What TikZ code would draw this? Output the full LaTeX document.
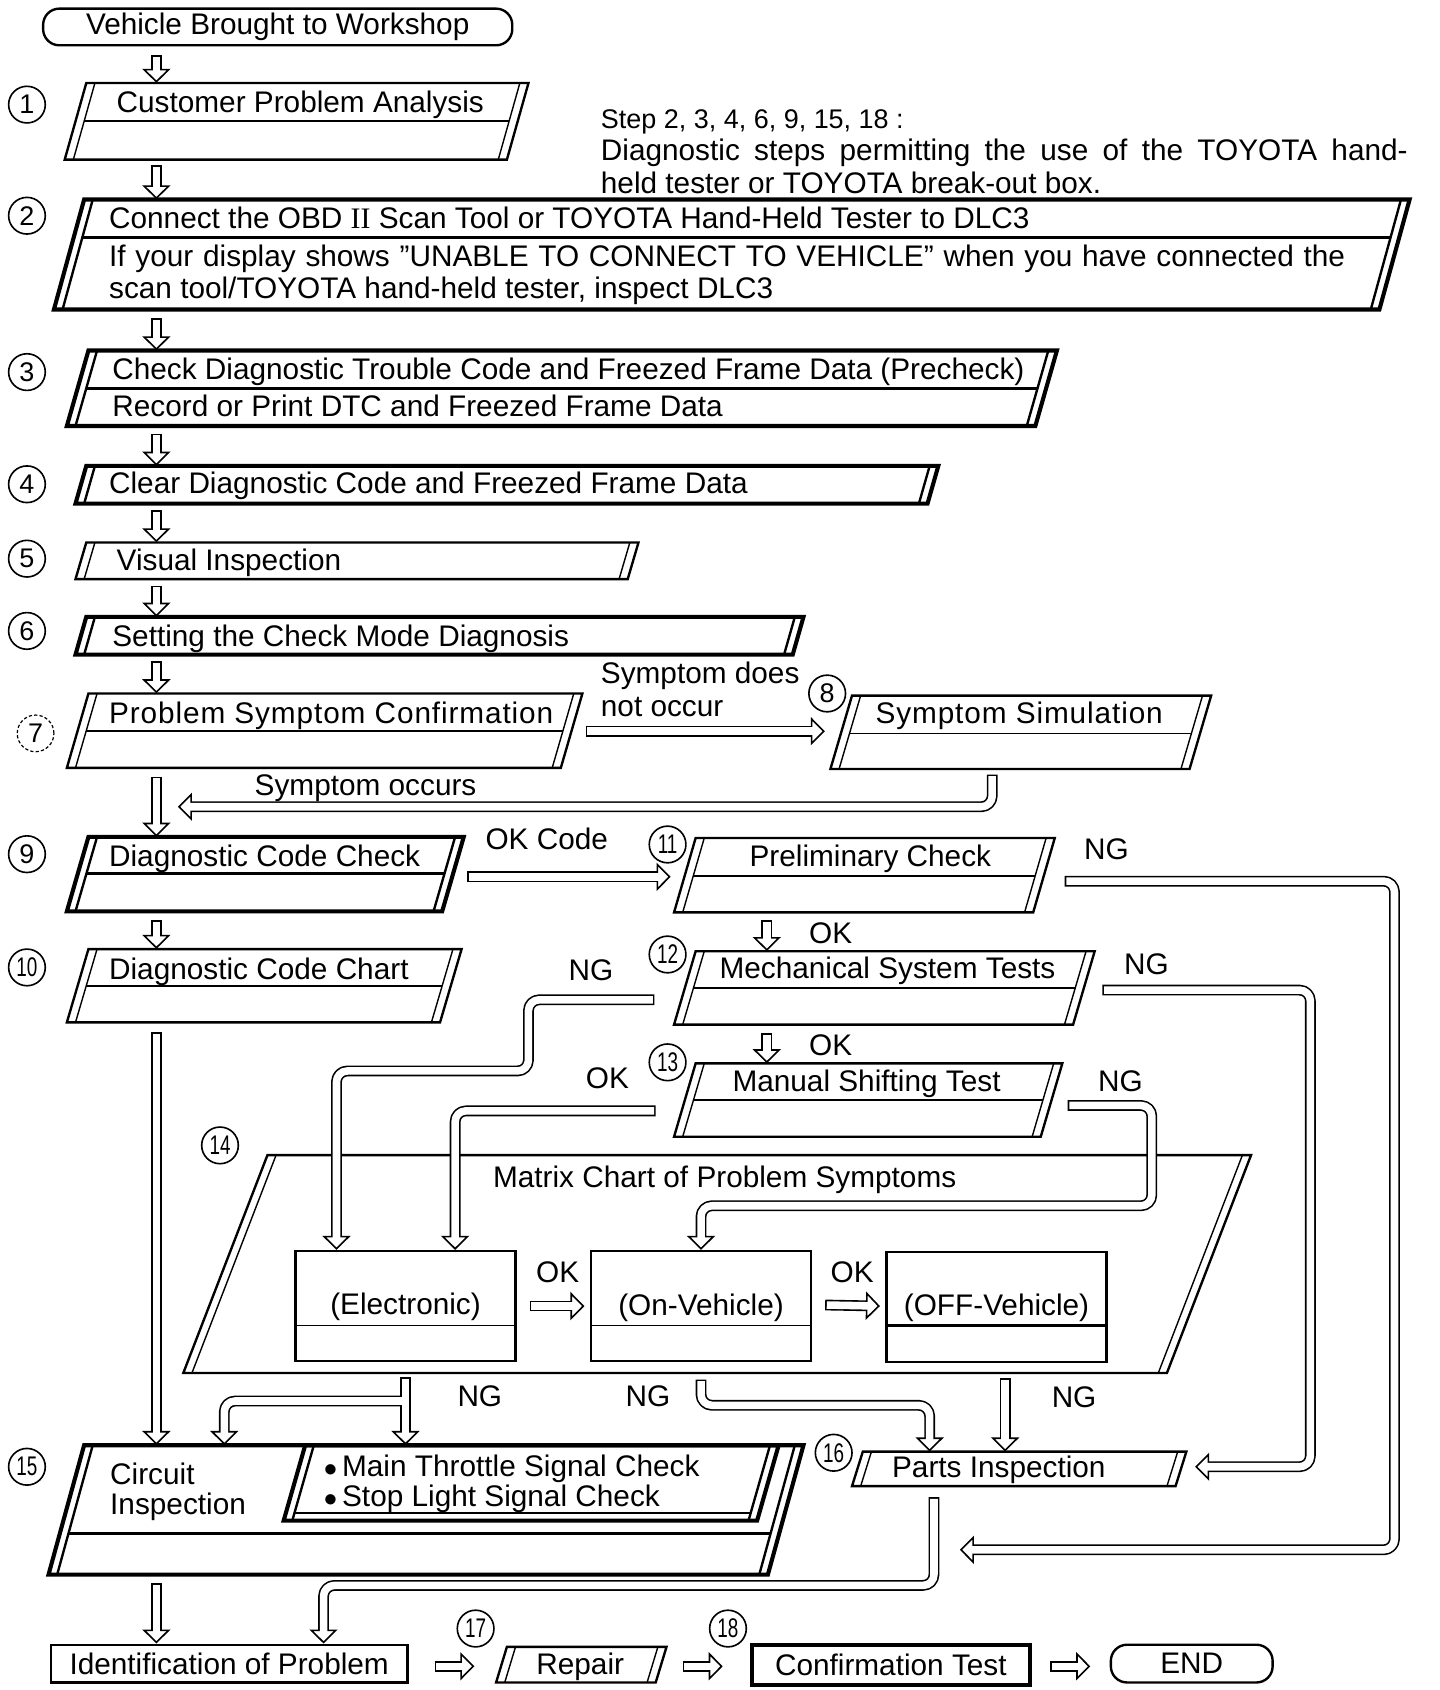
\documentclass[tikz,border=0pt]{standalone}
\usepackage{fontspec}
\usepackage{graphicx}
\setmainfont{Liberation Sans}
\newfontfamily\romanfont{Liberation Serif}
\usetikzlibrary{arrows.meta,calc}

\tikzset{
  regbox/.style={outerln/.style={line width=2.2pt,line join=miter},
                 innerln/.style={line width=1.3pt},
                 sepln/.style={line width=1.6pt}},
  boldbox/.style={outerln/.style={line width=3.8pt,line join=miter},
                 innerln/.style={line width=2.2pt},
                 sepln/.style={line width=2.4pt}},
  tx/.style={inner sep=0pt, font=\fontsize{27.6}{31}\selectfont},
  num/.style={circle, draw, line width=1.5pt, minimum size=34pt, inner sep=0pt,
              font=\fontsize{25}{25}\selectfont},
  hout/.style={line width=10pt, line join=round, rounded corners=10pt,
     -{Triangle[open, length=13pt, width=26pt, line width=1.5pt]}},
  hin/.style={line width=7pt, white, line join=round, rounded corners=10pt,
     shorten <=1.5pt, shorten >=10.5pt},
  rbox/.style={draw, line width=2.2pt, inner sep=0pt},
}

% parallelogram box: [style]{name}{xl top}{xr top}{y top}{y bottom}{shift}{separator y or 0}
\newcommand\pbox[8][regbox]{%
  \begin{scope}[#1]
    \draw[outerln] (#3,#5) -- (#4,#5) -- ({#4-#7},#6) -- ({#3-#7},#6) -- cycle;
    \draw[innerln] ({#3+8},#5) -- ({#3+8-#7},#6);
    \draw[innerln] ({#4-8},#5) -- ({#4-8-#7},#6);
    \ifdim #8pt>0pt
      \pgfmathsetmacro\sepoff{(#8-#5)/(#6-#5)*#7}
      \draw[sepln] ({#3+8-\sepoff},#8) -- ({#4-8-\sepoff},#8);
    \fi
  \end{scope}
  \node[inner sep=0pt, minimum width={#4-#3+#7}, minimum height={#6-#5}] (#2)
     at ({(#3+#4-#7)/2},{(#5+#6)/2}) {};
}
\newcommand\harrow[1]{\draw[hout] #1;\draw[hin] #1;}
\newcommand\nn[1]{\scalebox{0.7}[1]{#1}}
\newcommand\wide[1]{{\addfontfeatures{LetterSpace=3}#1}}

\begin{document}
\begin{tikzpicture}[x=1pt,y=-1pt]
\fill[white] (0,0) rectangle (1335,1567);
\useasboundingbox (0,0) rectangle (1335,1567);

\coordinate (col) at (145,0);
\coordinate (c11) at (711,0);

% ---------- terminals ----------
\node[draw, line width=2.2pt, rounded corners=15pt, minimum width=435pt,
      minimum height=34pt, tx] (start) at (257.5,25) {Vehicle Brought to Workshop};

% ---------- boxes ----------
\pbox[regbox]{b1}{80}{490}{77}{148}{20}{112}
\pbox[boldbox]{b2}{78}{1307}{185}{287}{28}{220}
\pbox[boldbox]{b3}{82}{980}{325}{395}{20}{360}
\pbox[boldbox]{b4}{80}{870}{432}{467}{10}{0}
\pbox[regbox]{b5}{80}{592}{503}{537}{10}{0}
\pbox[boldbox]{b6}{80}{745}{572}{607}{10}{0}
\pbox[regbox]{b7}{82}{540}{643}{712}{20}{678}
\pbox[regbox]{b8}{790}{1123}{645}{713}{20}{680}
\pbox[boldbox]{b9}{82}{430}{776}{845}{20}{810}
\pbox[regbox]{b10}{82}{428}{880}{948}{20}{914}
\pbox[regbox]{b11}{645}{978}{777}{846}{20}{812}
\pbox[regbox]{b12}{645}{1015}{882}{950}{20}{916}
\pbox[regbox]{b13}{645}{985}{986}{1054}{20}{1020}
\pbox[regbox]{b14}{248}{1160}{1071}{1273}{78}{0}
\pbox[boldbox]{b15}{78}{745}{1340}{1460}{33}{1422}
\pbox[boldbox]{b15i}{283}{722}{1340}{1410}{20}{1403}
\pbox[regbox]{b16}{800}{1100}{1346}{1378}{10}{0}
\pbox[regbox]{b17}{470}{618}{1527}{1560}{10}{0}

% matrix sub boxes
\node[rbox, minimum width=204pt, minimum height=102pt] (elec) at (376,1211) {};
\node[rbox, minimum width=204pt, minimum height=102pt] (onv) at (650,1211) {};
\node[rbox, minimum width=204pt, minimum height=102pt] (offv) at (924,1212) {};
\draw[line width=1.6pt] (elec.west |- 0,1229) -- (elec.east |- 0,1229);
\draw[line width=1.6pt] (onv.west |- 0,1229) -- (onv.east |- 0,1229);
\draw[line width=2.6pt] (offv.west |- 0,1229) -- (offv.east |- 0,1229);

% bottom row
\node[rbox, minimum width=331pt, minimum height=35pt, tx] (ident) at (212.5,1542.5) {Identification of Problem};
\node[rbox, line width=3.8pt, minimum width=258pt, minimum height=37pt, tx] (confirm) at (826,1543.5) {Confirmation Test};
\node[draw, line width=2.2pt, rounded corners=15pt, minimum width=150pt,
      minimum height=35pt, tx] (endn) at (1105,1542.5) {END};

% ---------- circled numbers ----------
\node[num] (n1) at (25,97) {1};
\node[num] (n2) at (25,200) {2};
\node[num] (n3) at (25,345) {3};
\node[num] (n4) at (25,449) {4};
\node[num] (n5) at (25,518) {5};
\node[num] (n6) at (25,585) {6};
\node[num, line width=1.1pt, dash pattern=on 3pt off 2pt] (n7) at (33,680) {7};
\node[num] (n8) at (767,643) {8};
\node[num] (n9) at (25,792) {9};
\node[num] (n10) at (25,897) {\nn{10}};
\node[num] (n11) at (619,783) {\nn{11}};
\node[num] (n12) at (619,885) {\nn{12}};
\node[num] (n13) at (619,985) {\nn{13}};
\node[num] (n14) at (204,1062) {\nn{14}};
\node[num] (n15) at (25,1360) {\nn{15}};
\node[num] (n16) at (773,1347) {\nn{16}};
\node[num] (n17) at (441,1510) {\nn{17}};
\node[num] (n18) at (675,1510) {\nn{18}};

% ---------- texts ----------
\node[tx, anchor=base west] (t1) at (108,104) {Customer Problem Analysis};
\node[tx, anchor=base west, font=\fontsize{25}{30}\selectfont] (note1) at (557,119) {Step 2, 3, 4, 6, 9, 15, 18 :};
\node[tx, anchor=base west] (note2) at (557,149) {\makebox[748pt][s]{Diagnostic steps permitting the use of the TOYOTA hand-}};
\node[tx, anchor=base west] (note3) at (557,179) {held tester or TOYOTA break-out box.};
\node[tx, anchor=base west] (t2a) at (101,212) {Connect the OBD {\romanfont II} Scan Tool or TOYOTA Hand-Held Tester to DLC3};
\node[tx, anchor=base west] (t2b) at (101,247) {\makebox[1146pt][s]{If your display shows ”UNABLE TO CONNECT TO VEHICLE” when you have connected the}};
\node[tx, anchor=base west] (t2c) at (101,277) {scan tool/TOYOTA hand-held tester, inspect DLC3};
\node[tx, anchor=base west] (t3a) at (104,352) {Check Diagnostic Trouble Code and Freezed Frame Data (Precheck)};
\node[tx, anchor=base west] (t3b) at (104,386) {Record or Print DTC and Freezed Frame Data};
\node[tx, anchor=base west] (t4) at (101,458) {Clear Diagnostic Code and Freezed Frame Data};
\node[tx, anchor=base west] (t5) at (108,529) {Visual Inspection};
\node[tx, anchor=base west] (t6) at (104,599) {Setting the Check Mode Diagnosis};
\node[tx, anchor=base west] (t7) at (101,671) {\wide{Problem Symptom Confirmation}};
\node[tx, anchor=base west] (l7a) at (557,634) {Symptom does};
\node[tx, anchor=base west] (l7b) at (557,664) {not occur};
\node[tx, anchor=base] (t8) at (945,671) {\wide{Symptom Simulation}};
\node[tx, anchor=base west] (l8) at (236,738) {Symptom occurs};
\node[tx, anchor=base west] (t9) at (101,803) {Diagnostic Code Check};
\node[tx, anchor=base west] (l9) at (450,788) {OK Code};
\node[tx, anchor=base] (t11) at (807,803) {Preliminary Check};
\node[tx, anchor=base west] (l11) at (1005,797) {NG};
\node[tx, anchor=base west] (t10) at (101,908) {Diagnostic Code Chart};
\node[tx, anchor=base west] (l11b) at (750,875) {OK};
\node[tx, anchor=base west] (t12) at (667,907) {Mechanical System Tests};
\node[tx, anchor=base west] (l12r) at (1042,904) {NG};
\node[tx, anchor=base west] (l12l) at (527,909) {NG};
\node[tx, anchor=base west] (l12b) at (750,979) {OK};
\node[tx, anchor=base west] (t13) at (679,1012) {Manual Shifting Test};
\node[tx, anchor=base west] (l13l) at (543,1009) {OK};
\node[tx, anchor=base west] (l13r) at (1018,1012) {NG};
\node[tx, anchor=base west] (t14) at (457,1101) {Matrix Chart of Problem Symptoms};
\node[tx, anchor=base] (telec) at (376,1219) {(Electronic)};
\node[tx, anchor=base] (tonv) at (650,1220) {(On-Vehicle)};
\node[tx, anchor=base] (toffv) at (924,1220) {(OFF-Vehicle)};
\node[tx, anchor=base west] (lok1) at (497,1189) {OK};
\node[tx, anchor=base west] (lok2) at (770,1189) {OK};
\node[tx, anchor=base west] (lng1) at (424,1304) {NG};
\node[tx, anchor=base west] (lng2) at (580,1304) {NG};
\node[tx, anchor=base west] (lng3) at (975,1305) {NG};
\node[tx, anchor=base west] (t16) at (827,1370) {Parts Inspection};
\node[tx, anchor=base west] (t15a) at (102,1376) {Circuit};
\node[tx, anchor=base west] (t15b) at (102,1404) {Inspection};
\node[tx, anchor=base west] (t15c) at (300,1369) {$\bullet$\,Main Throttle Signal Check};
\node[tx, anchor=base west] (t15d) at (300,1397) {$\bullet$\,Stop Light Signal Check};
\node[tx, anchor=base] (t17) at (538,1553) {Repair};

% ---------- connectors ----------
\harrow{($(start.south -| col)+(0,8)$) -- (b1.north -| col)}
\harrow{($(b1.south -| col)+(0,5)$) -- (b2.north -| col)}
\harrow{($(b2.south -| col)+(0,8)$) -- (b3.north -| col)}
\harrow{($(b3.south -| col)+(0,7)$) -- (b4.north -| col)}
\harrow{($(b4.south -| col)+(0,6)$) -- (b5.north -| col)}
\harrow{($(b5.south -| col)+(0,6)$) -- (b6.north -| col)}
\harrow{($(b6.south -| col)+(0,6)$) -- (b7.north -| col)}
\harrow{($(b7.south -| col)+(0,8)$) -- (b9.north -| col)}
\harrow{($(b9.south -| col)+(0,8)$) -- (b10.north -| col)}
\harrow{($(b10.south -| col)+(0,9)$) -- (b15.north -| col)}
\harrow{($(b15.south -| col)+(0,8)$) -- (ident.north -| col)}

% 7 -> 8
\harrow{($(b7.east)+(3,0.5)$) -- ($(b8.west |- b7.east)+(-5,0.5)$)}
% 8 -> back to main
\coordinate (k8) at (920,748);
\harrow{($(b8.south -| k8)+(0,5)$) -- (k8) -- ($(col |- k8)+(20,0)$)}
% 9 -> 11
\coordinate (k9) at ($(b9.east)+(3,2.5)$);
\harrow{(k9) -- ($(k9 -| b11.west)+(-3,0)$)}
% 11 -> 12 -> 13
\harrow{($(b11.south -| c11)+(0,7)$) -- (b12.north -| c11)}
\harrow{($(b12.south -| c11)+(0,8)$) -- (b13.north -| c11)}
% 11 NG
\coordinate (g1) at ($(b11.east)+(9,5.5)$);
\coordinate (g1a) at (1293,817);
\coordinate (g1b) at (1293,1437);
\coordinate (g1e) at (890,1437);
\harrow{(g1) -- (g1a) -- (g1b) -- (g1e)}
% 12 NG right
\coordinate (g2) at ($(b12.east)+(7,2)$);
\coordinate (g2a) at (1215,918);
\coordinate (g2b) at (1215,1360);
\harrow{(g2) -- (g2a) -- (g2b) -- ($(b16.east |- g2b)+(8,0)$)}
% 12 NG left
\coordinate (g3) at ($(b12.west |- 0,927)+(-18,0)$);
\coordinate (g3a) at (490,927);
\coordinate (g3b) at (490,993);
\coordinate (g3c) at (312,993);
\harrow{(g3) -- (g3a) -- (g3b) -- (g3c) -- (g3c |- elec.north)}
% 13 OK left
\coordinate (g4) at (608,1030);
\coordinate (g4a) at (422,1030);
\harrow{(g4) -- (g4a) -- (g4a |- elec.north)}
% 13 NG right
\coordinate (g5) at (990,1025);
\coordinate (g5a) at (1068,1025);
\coordinate (g5b) at (1068,1118);
\coordinate (g5c) at (650,1118);
\harrow{(g5) -- (g5a) -- (g5b) -- (g5c) -- (g5c |- onv.north)}
% matrix OK arrows
\harrow{($(elec.east)+(12,0)$) -- ($(onv.west)+(-5,0)$)}
\harrow{($(onv.east)+(12,-1)$) -- ($(offv.west)+(-5,-1)$)}
% Electronic NG (T junction)
\coordinate (e1) at ($(elec.south)+(0,14)$);
\coordinate (e2) at (376,1299);
\coordinate (e3) at (208,1299);
\draw[hout] (e1) -- (e1 |- b15i.north);
\draw[hout] (e2) -- (e3) -- (e3 |- b15.north);
\draw[hin] (e1) -- (e1 |- b15i.north);
\draw[hin, shorten <=0pt] (e2) -- (e3) -- (e3 |- b15.north);
% On-Vehicle NG
\coordinate (o1) at ($(onv.south)+(0,16)$);
\coordinate (o2) at (650,1303);
\coordinate (o3) at (862,1303);
\harrow{(o1) -- (o2) -- (o3) -- (o3 |- b16.north)}
% OFF-Vehicle NG
\coordinate (f1) at (932,1278);
\harrow{(f1) -- (f1 |- b16.north)}
% 16 -> identification
\coordinate (p1) at ($(b16.south -| 866,0)+(0,10)$);
\coordinate (p2) at (866,1470);
\coordinate (p3) at (300,1470);
\harrow{(p1) -- (p2) -- (p3) -- (p3 |- ident.north)}
% bottom row
\coordinate (q1) at ($(ident.east)+(24,2.5)$);
\harrow{(q1) -- ($(q1 -| b17.west)+(-20,0)$)}
\coordinate (q2) at (633,1545);
\harrow{(q2) -- ($(q2 -| confirm.west)+(-25,0)$)}
\coordinate (q3) at ($(confirm.east |- q2)+(17,0)$);
\harrow{(q3) -- ($(q3 -| endn.west)+(-18,0)$)}
\end{tikzpicture}
\end{document}
